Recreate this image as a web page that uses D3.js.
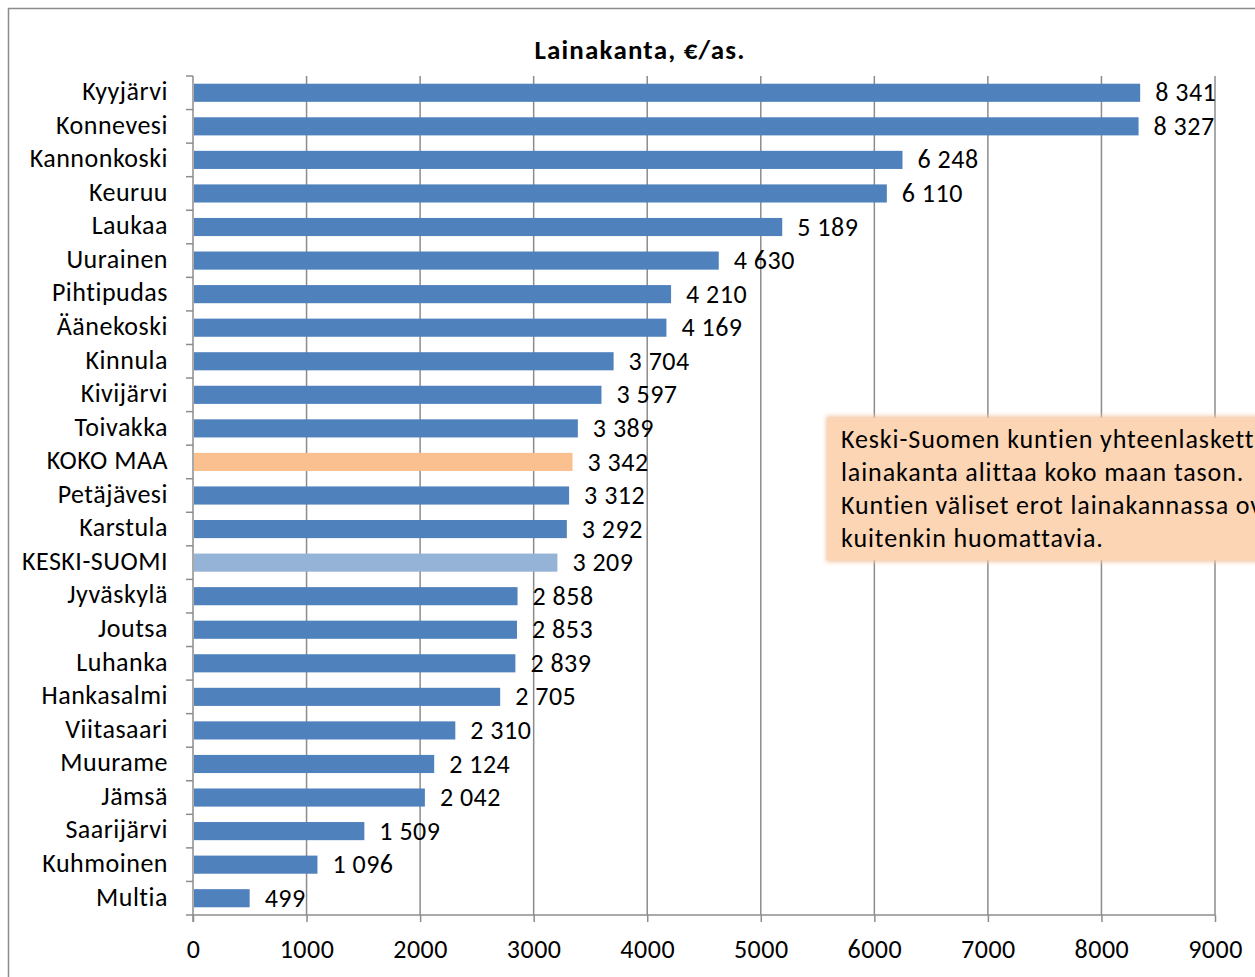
<!DOCTYPE html>
<html>
<head>
<meta charset="utf-8">
<script src="https://cdn.jsdelivr.net/npm/d3@7"></script>
<style>
  body { margin: 0; background: #fff; }
  svg { display: block; font-family: Carlito, Calibri, "Open Sans", sans-serif; }
</style>
</head>
<body>
<div id="chart"></div>
<script>
var categories = ['Kyyjärvi', 'Konnevesi', 'Kannonkoski', 'Keuruu', 'Laukaa', 'Uurainen',
  'Pihtipudas', 'Äänekoski', 'Kinnula', 'Kivijärvi', 'Toivakka', 'KOKO MAA', 'Petäjävesi',
  'Karstula', 'KESKI-SUOMI', 'Jyväskylä', 'Joutsa', 'Luhanka', 'Hankasalmi', 'Viitasaari',
  'Muurame', 'Jämsä', 'Saarijärvi', 'Kuhmoinen', 'Multia'];
var values = [8341, 8327, 6248, 6110, 5189, 4630, 4210, 4169, 3704, 3597, 3389, 3342, 3312,
  3292, 3209, 2858, 2853, 2839, 2705, 2310, 2124, 2042, 1509, 1096, 499];
var xTicks = [0, 1000, 2000, 3000, 4000, 5000, 6000, 7000, 8000, 9000];
var title = 'Lainakanta, €/as.';
var note = ['Keski-Suomen kuntien yhteenlaskettu',
  'lainakanta alittaa koko maan tason.',
  'Kuntien väliset erot lainakannassa ovat',
  'kuitenkin huomattavia.'];

var width = 1255, height = 977;
var plot = { left: 193, right: 1215, top: 76, bottom: 915 };
var fontSize = 26;
var spacing = 0.5;

var svg = d3.select('#chart').append('svg')
  .attr('width', width).attr('height', height)
  .attr('letter-spacing', spacing);

// frame of the chart area (runs off the right/bottom edge)
svg.append('rect')
  .attr('x', 8.5).attr('y', 8.5)
  .attr('width', 1400).attr('height', 1200)
  .attr('fill', 'none').attr('stroke', '#8c8c8c').attr('stroke-width', 1.5);

var x = d3.scaleLinear().domain([0, 9000]).range([plot.left, plot.right]);
var y = d3.scaleBand().domain(categories).range([plot.top, plot.bottom]).paddingInner(0.46).paddingOuter(0.23);
var yb = d3.scaleBand().domain(categories).range([plot.top, plot.bottom]);

// vertical gridlines
svg.append('g').selectAll('line')
  .data(xTicks.slice(1))
  .enter().append('line')
  .attr('x1', function (d) { return x(d); })
  .attr('x2', function (d) { return x(d); })
  .attr('y1', plot.top).attr('y2', plot.bottom)
  .attr('stroke', '#8c8c8c').attr('stroke-width', 1.5);

// x axis
var xAxis = svg.append('g').attr('transform', 'translate(0,' + plot.bottom + ')')
  .call(d3.axisBottom(x).tickValues(xTicks).tickSize(7).tickPadding(18).tickFormat(d3.format('d')));
xAxis.select('.domain').attr('stroke', '#8c8c8c').attr('stroke-width', 1.5)
  .attr('d', 'M' + plot.left + ',0H' + plot.right);
xAxis.selectAll('.tick line').attr('stroke', '#8c8c8c').attr('stroke-width', 1.5);
xAxis.selectAll('.tick text').attr('font-size', fontSize).attr('fill', '#000')
  .attr('font-family', 'Carlito, Calibri, "Open Sans", sans-serif');

// y axis with ticks between categories
var yAxis = svg.append('g');
yAxis.append('line')
  .attr('x1', plot.left).attr('x2', plot.left).attr('y1', plot.top).attr('y2', plot.bottom + 7)
  .attr('stroke', '#8c8c8c').attr('stroke-width', 1.5);
var tickYs = categories.map(function (d) { return yb(d); }).concat([plot.bottom]);
yAxis.selectAll('line.tk')
  .data(tickYs)
  .enter().append('line').attr('class', 'tk')
  .attr('x1', plot.left - 7).attr('x2', plot.left)
  .attr('y1', function (d) { return d; })
  .attr('y2', function (d) { return d; })
  .attr('stroke', '#8c8c8c').attr('stroke-width', 1.5);
yAxis.selectAll('text')
  .data(categories)
  .enter().append('text')
  .attr('x', plot.left - 25)
  .attr('y', function (d) { return yb(d) + yb.bandwidth() / 2; })
  .attr('dy', '0.28em')
  .attr('text-anchor', 'end')
  .attr('font-size', fontSize)
  .text(function (d) { return d; });

// bars
function barColor(d) {
  if (d === 'KOKO MAA') return '#FAC090';
  if (d === 'KESKI-SUOMI') return '#95B3D7';
  return '#4F81BD';
}
svg.append('g').selectAll('rect')
  .data(values)
  .enter().append('rect')
  .attr('x', x(0) + 1)
  .attr('y', function (d, i) { return y(categories[i]); })
  .attr('width', function (d) { return x(d) - x(0) - 1; })
  .attr('height', y.bandwidth())
  .attr('fill', function (d, i) { return barColor(categories[i]); });

// value labels
var fmt = function (v) { return d3.format(',')(v).replace(/,/g, ' '); };
svg.append('g').selectAll('text')
  .data(values)
  .enter().append('text')
  .attr('x', function (d) { return x(d) + 15; })
  .attr('y', function (d, i) { return yb(categories[i]) + yb.bandwidth() / 2; })
  .attr('dy', '0.33em')
  .attr('font-size', fontSize)
  .text(function (d) { return fmt(d); });

// title
svg.append('text')
  .attr('x', 640).attr('y', 59)
  .attr('text-anchor', 'middle')
  .attr('font-size', 27).attr('font-weight', 'bold')
  .attr('letter-spacing', 1.2)
  .text(title);

// note box
var defs = svg.append('defs');
var f = defs.append('filter').attr('id', 'soft')
  .attr('x', '-5%').attr('y', '-10%').attr('width', '110%').attr('height', '120%');
f.append('feGaussianBlur').attr('stdDeviation', 2);
svg.append('rect')
  .attr('x', 826).attr('y', 416).attr('width', 500).attr('height', 146)
  .attr('fill', '#f3c8a6').attr('filter', 'url(#soft)');
svg.append('rect')
  .attr('x', 828).attr('y', 418).attr('width', 500).attr('height', 142)
  .attr('fill', '#FCD5B5');
svg.append('g').selectAll('text')
  .data(note)
  .enter().append('text')
  .attr('x', 841)
  .attr('y', function (d, i) { return 448 + i * 33; })
  .attr('font-size', fontSize)
  .attr('letter-spacing', 0.9)
  .text(function (d) { return d; });
</script>
</body>
</html>
